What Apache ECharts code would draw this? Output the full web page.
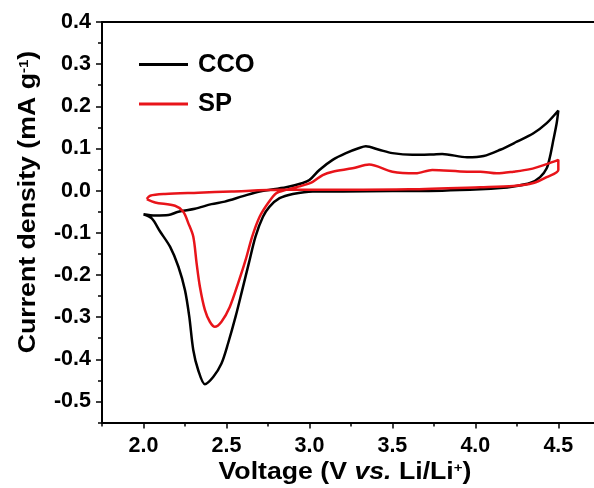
<!DOCTYPE html>
<html>
<head>
<meta charset="utf-8">
<script src="https://cdn.jsdelivr.net/npm/echarts@6/dist/echarts.min.js"></script>
<style>html,body{margin:0;padding:0;background:#fff}#c{width:594px;height:488px}</style>
</head>
<body>
<div id="c"></div>
<script>
// CCO: anodic sweep (2.0 -> 4.5) then cathodic sweep (4.5 -> 2.0)
const ccoVoltage = [2.00,2.07,2.15,2.21,2.31,2.41,2.49,2.60,2.70,2.86,2.96,3.00,3.06,3.14,3.22,3.30,3.34,3.42,3.50,3.62,3.74,3.80,3.95,4.05,4.15,4.25,4.35,4.43,4.50,
  4.49,4.47,4.45,4.43,4.39,4.33,4.23,4.15,4.03,3.80,3.50,3.20,3.02,2.90,2.82,2.76,2.72,2.675,2.635,2.595,2.555,2.51,2.47,2.42,2.37,2.33,2.30,2.276,2.25,2.21,2.16,2.10,2.05,2.00];
const ccoCurrent = [-0.056,-0.059,-0.058,-0.050,-0.043,-0.032,-0.026,-0.013,-0.002,0.008,0.018,0.025,0.049,0.073,0.089,0.101,0.105,0.097,0.089,0.085,0.086,0.087,0.079,0.082,0.097,0.116,0.136,0.160,0.190,
  0.160,0.120,0.081,0.053,0.032,0.018,0.010,0.006,0.003,0.000,-0.001,-0.002,-0.002,-0.008,-0.018,-0.038,-0.062,-0.109,-0.172,-0.236,-0.299,-0.362,-0.410,-0.442,-0.459,-0.426,-0.378,-0.299,-0.236,-0.180,-0.133,-0.097,-0.066,-0.056];
// SP loop
const spVoltage = [2.02,2.04,2.13,2.33,2.53,2.84,3.20,3.60,4.03,4.23,4.35,4.43,4.50,4.50,4.43,4.33,4.23,4.13,4.03,3.95,3.74,3.64,3.50,3.36,3.26,3.14,3.08,3.02,2.94,2.86,2.80,2.75,2.70,2.655,2.615,2.57,2.52,2.47,2.43,2.40,2.37,2.34,2.32,2.30,2.27,2.24,2.19,2.07,2.02];
const spCurrent = [-0.020,-0.012,-0.008,-0.005,-0.002,0.002,0.002,0.003,0.008,0.011,0.018,0.032,0.049,0.073,0.063,0.051,0.045,0.041,0.045,0.045,0.049,0.041,0.045,0.062,0.053,0.045,0.037,0.021,0.010,0.002,-0.006,-0.030,-0.062,-0.109,-0.165,-0.220,-0.276,-0.311,-0.323,-0.311,-0.283,-0.228,-0.172,-0.109,-0.077,-0.050,-0.036,-0.028,-0.020];
const seriesNames = ['CCO', 'SP'];
const xTicks = [2.0, 2.5, 3.0, 3.5, 4.0, 4.5];
const xMinorTicks = [1.75, 2.25, 2.75, 3.25, 3.75, 4.25];
const yTicks = [-0.5, -0.4, -0.3, -0.2, -0.1, 0.0, 0.1, 0.2, 0.3, 0.4];
const yMinorTicks = [-0.55, -0.45, -0.35, -0.25, -0.15, -0.05, 0.05, 0.15, 0.25, 0.35];
const X_MIN = 1.75, X_MAX = 4.715, Y_MIN = -0.55, Y_MAX = 0.4;

const zip = (a, b) => a.map((v, i) => [v, b[i]]);
const FONT = '"Liberation Sans", Arial, sans-serif';
const chart = echarts.init(document.getElementById('c'), null, {renderer: 'canvas'});
chart.setOption({
  animation: false,
  backgroundColor: '#fff',
  grid: {left: 102, top: 22, right: 0, bottom: 65.5, show: false},
  legend: {
    orient: 'vertical', left: 134, top: 46, itemGap: 12.5, itemWidth: 49, itemHeight: 3, icon: 'rect',
    textStyle: {fontFamily: FONT, fontWeight: 'bold', fontSize: 25.5, color: '#000', lineHeight: 27, padding: [0, 0, 0, 5]},
    data: seriesNames
  },
  xAxis: [{
    type: 'value', min: X_MIN, max: X_MAX,
    axisLine: {onZero: false, lineStyle: {color: '#000', width: 2}},
    splitLine: {show: false},
    axisTick: {customValues: xTicks, length: 6, lineStyle: {color: '#000', width: 1.5}},
    axisLabel: {customValues: xTicks, margin: 13, formatter: v => v.toFixed(1), fontFamily: FONT, fontWeight: 'bold', fontSize: 21.5, color: '#000'}
  }, {
    type: 'value', min: X_MIN, max: X_MAX, position: 'bottom',
    axisLine: {show: false, onZero: false}, splitLine: {show: false}, axisLabel: {show: false},
    axisTick: {customValues: xMinorTicks, length: 4, lineStyle: {color: '#000', width: 1.5}}
  }, {
    type: 'value', min: X_MIN, max: X_MAX, position: 'top',
    axisLine: {show: true, onZero: false, lineStyle: {color: '#000', width: 2}},
    splitLine: {show: false}, axisLabel: {show: false}, axisTick: {show: false}
  }],
  yAxis: [{
    type: 'value', min: Y_MIN, max: Y_MAX,
    axisLine: {show: true, onZero: false, lineStyle: {color: '#000', width: 2}},
    splitLine: {show: false},
    axisTick: {show: true, customValues: yTicks, length: 6, lineStyle: {color: '#000', width: 1.5}},
    axisLabel: {customValues: yTicks, margin: 11, formatter: v => v.toFixed(1), fontFamily: FONT, fontWeight: 'bold', fontSize: 21.5, color: '#000'}
  }, {
    type: 'value', min: Y_MIN, max: Y_MAX, position: 'left',
    axisLine: {show: false, onZero: false}, splitLine: {show: false}, axisLabel: {show: false},
    axisTick: {show: true, customValues: yMinorTicks, length: 4, lineStyle: {color: '#000', width: 1.5}}
  }],
  series: [
    {name: seriesNames[0], type: 'line', data: zip(ccoVoltage, ccoCurrent), showSymbol: false, symbol: 'none', smooth: 0.3,
     lineStyle: {color: '#000', width: 2.5}, itemStyle: {color: '#000'}, z: 3},
    {name: seriesNames[1], type: 'line', data: zip(spVoltage, spCurrent), showSymbol: false, symbol: 'none', smooth: 0.3,
     lineStyle: {color: '#e8141a', width: 2.5}, itemStyle: {color: '#e8141a'}, z: 4}
  ],
  graphic: [
    {type: 'text', x: 29, y: 202, rotation: Math.PI / 2, scaleX: 1.16,
     style: {text: '{a|Current density (mA g}{s|-1}{a|)}', align: 'center', verticalAlign: 'middle',
       rich: {a: {fontFamily: FONT, fontWeight: 'bold', fontSize: 23, fill: '#000'},
              s: {fontFamily: FONT, fontWeight: 'bold', fontSize: 13, fill: '#000', verticalAlign: 'top', padding: [0, 0, 10, 0]}}}},
    {type: 'text', x: 345, y: 473, scaleX: 1.16,
     style: {text: '{a|Voltage (V }{i|vs.}{a| Li/Li}{s|+}{a|)}', align: 'center', verticalAlign: 'middle',
       rich: {a: {fontFamily: FONT, fontWeight: 'bold', fontSize: 23, fill: '#000'},
              i: {fontFamily: FONT, fontWeight: 'bold', fontStyle: 'italic', fontSize: 23, fill: '#000'},
              s: {fontFamily: FONT, fontWeight: 'bold', fontSize: 13, fill: '#000', verticalAlign: 'top', padding: [0, 0, 10, 0]}}}}
  ]
});
</script>
</body>
</html>
